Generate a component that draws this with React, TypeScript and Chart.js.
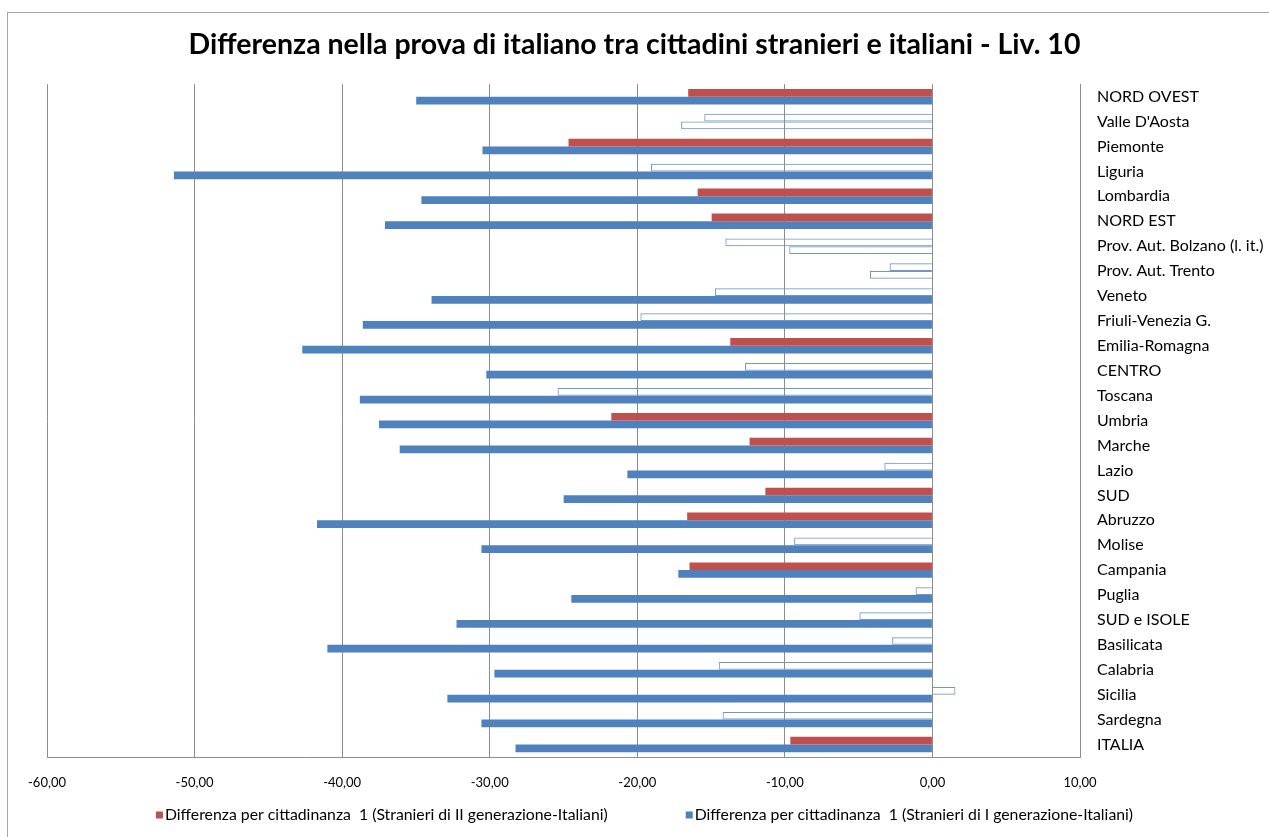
import React, { useEffect, useRef } from "react";
import { Chart, registerables } from "chart.js";

Chart.register(...registerables);

const TITLE = "Differenza nella prova di italiano tra cittadini stranieri e italiani - Liv. 10";

const categories = [
  "NORD OVEST", "Valle D'Aosta", "Piemonte", "Liguria", "Lombardia",
  "NORD EST", "Prov. Aut. Bolzano (l. it.)", "Prov. Aut. Trento", "Veneto", "Friuli-Venezia G.",
  "Emilia-Romagna", "CENTRO", "Toscana", "Umbria", "Marche",
  "Lazio", "SUD", "Abruzzo", "Molise", "Campania",
  "Puglia", "SUD e ISOLE", "Basilicata", "Calabria", "Sicilia",
  "Sardegna", "ITALIA",
];

// Stranieri di II generazione - Italiani
const secondGen = [
  -16.55, -15.46, -24.66, -19.07, -15.91,
  -14.96, -14.03, -2.9, -14.74, -19.79,
  -13.7, -12.7, -25.4, -21.76, -12.39,
  -3.26, -11.32, -16.62, -9.37, -16.46,
  -1.14, -4.95, -2.73, -14.48, 1.56,
  -14.22, -9.63,
];
const secondGenSignificant = [
  true, false, true, false, true,
  true, false, false, false, false,
  true, false, false, true, true,
  false, true, true, false, true,
  false, false, false, false, false,
  false, true,
];

// Stranieri di I generazione - Italiani
const firstGen = [
  -34.98, -17.03, -30.49, -51.4, -34.63,
  -37.1, -9.7, -4.23, -33.94, -38.6,
  -42.7, -30.23, -38.8, -37.5, -36.1,
  -20.67, -24.99, -41.7, -30.56, -17.22,
  -24.47, -32.25, -41.0, -29.68, -32.87,
  -30.56, -28.25,
];
const firstGenSignificant = [
  true, false, true, true, true,
  true, false, false, true, true,
  true, true, true, true, true,
  true, true, true, true, true,
  true, true, true, true, true,
  true, true,
];

const xTicks = [-60, -50, -40, -30, -20, -10, 0, 10];

const LEGEND_II = "Differenza per cittadinanza  1 (Stranieri di II generazione-Italiani)";
const LEGEND_I = "Differenza per cittadinanza  1 (Stranieri di I generazione-Italiani)";

const RED = "#C0504D";
const BLUE = "#4F81BD";
const HOLLOW = "#6F97C9";
const GRID = "#8C8C8C";
const FONT = "Lato";

const legendPlugin = {
  id: "customLegend",
  afterDraw(chart: any) {
    const ctx = chart.ctx;
    ctx.save();
    ctx.font = `15.8px ${FONT}`;
    ctx.textBaseline = "middle";
    ctx.textAlign = "left";
    const items = [
      { label: LEGEND_II, color: RED },
      { label: LEGEND_I, color: BLUE },
    ];
    const box = 7;
    const boxGap = 2;
    const gap = 78;
    const widths = items.map((it) => box + boxGap + ctx.measureText(it.label).width);
    const total = widths[0] + widths[1] + gap;
    let x = chart.width / 2 - total / 2 + 10;
    const y = chart.chartArea.bottom + 58;
    items.forEach((it, i) => {
      ctx.fillStyle = it.color;
      ctx.fillRect(x, y - box / 2, box, box);
      ctx.fillStyle = "#000";
      ctx.fillText(it.label, x + box + boxGap, y);
      x += widths[i] + gap;
    });
    ctx.restore();
  },
};

export default function App() {
  const ref = useRef<HTMLCanvasElement>(null);

  useEffect(() => {
    if (!ref.current) return;
    const chart = new Chart(ref.current, {
      type: "bar",
      data: {
        labels: categories,
        datasets: [
          {
            label: LEGEND_II,
            data: secondGen,
            backgroundColor: secondGenSignificant.map((s) => (s ? RED : "rgba(255,255,255,0)")),
            borderColor: secondGenSignificant.map((s) => (s ? RED : HOLLOW)),
            borderWidth: secondGenSignificant.map((s) => (s ? 0 : 1)),
            categoryPercentage: 0.62,
            barPercentage: 1,
          },
          {
            label: LEGEND_I,
            data: firstGen,
            backgroundColor: firstGenSignificant.map((s) => (s ? BLUE : "rgba(255,255,255,0)")),
            borderColor: firstGenSignificant.map((s) => (s ? BLUE : HOLLOW)),
            borderWidth: firstGenSignificant.map((s) => (s ? 0 : 1)),
            categoryPercentage: 0.62,
            barPercentage: 1,
          },
        ],
      },
      options: {
        indexAxis: "y",
        responsive: false,
        animation: false,
        devicePixelRatio: 1,
        layout: { padding: 0 },
        scales: {
          x: {
            type: "linear",
            min: -60,
            max: 10,
            z: 1,
            afterBuildTicks: (scale: any) => {
              scale.ticks = xTicks.map((v) => ({ value: v }));
            },
            afterFit: (scale: any) => {
              scale.height = 80;
            },
            grid: { color: GRID, lineWidth: 1, drawTicks: false },
            border: { display: true, color: GRID },
            ticks: {
              padding: 18,
              color: "#000",
              font: { family: FONT, size: 13 },
              callback: (v: any) => Number(v).toFixed(2).replace(".", ","),
            },
          },
          y: {
            type: "category",
            position: "right",
            afterFit: (scale: any) => {
              scale.width = 189;
            },
            grid: { display: false },
            border: { display: true, color: GRID },
            ticks: {
              padding: 9,
              color: "#000",
              font: { family: FONT, size: 16 },
              autoSkip: false,
            },
          },
          yLeftSpace: {
            type: "category",
            position: "left",
            labels: categories,
            afterFit: (scale: any) => {
              scale.width = 47;
            },
            grid: { display: false },
            border: { display: false },
            ticks: { display: false },
          },
        },
        plugins: {
          legend: { display: false },
          tooltip: { enabled: false },
          title: {
            display: true,
            text: TITLE,
            color: "#000",
            font: { family: FONT, size: 28.5, weight: "bold" },
            padding: { top: 28, bottom: 22 },
          },
        },
      },
      plugins: [legendPlugin],
    } as any);
    return () => chart.destroy();
  }, []);

  return (
    <div style={{ position: "fixed", left: 0, top: 0, width: 1269, height: 837, overflow: "hidden", background: "#fff" }}>
      <div
        style={{
          position: "absolute",
          left: 7,
          top: 12,
          width: 1400,
          height: 1000,
          border: "1px solid #A6A6A6",
        }}
      />
      <canvas ref={ref} width={1269} height={837} style={{ position: "absolute", left: 0, top: 0 }} />
    </div>
  );
}
